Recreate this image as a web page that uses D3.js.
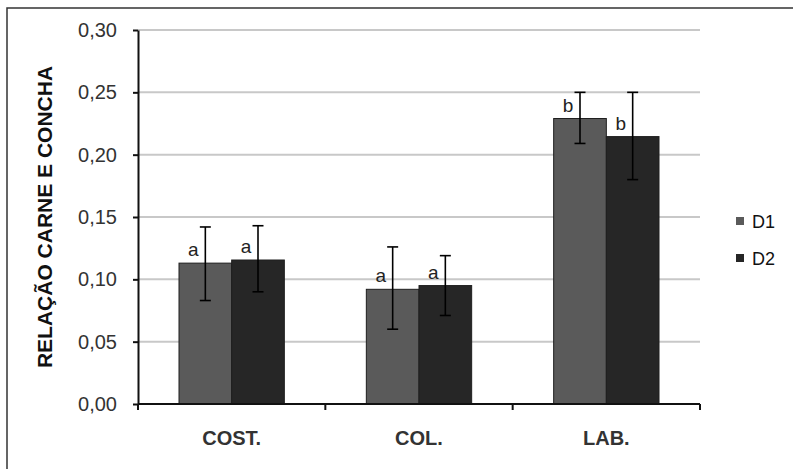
<!DOCTYPE html>
<html lang="pt">
<head>
<meta charset="utf-8">
<title>Relação carne e concha</title>
<script src="https://cdn.jsdelivr.net/npm/d3@7"></script>
<style>
  body { margin: 0; background: #fff; }
  svg { display: block; font-family: "Liberation Sans", Arial, sans-serif; }
  .grid line { stroke: #c8c8c8; stroke-width: 2; }
  .axis path, .axis line { stroke: #111; stroke-width: 2; }
  .axis text { fill: #333; font-size: 20px; }
</style>
</head>
<body>
<svg id="chart" width="793" height="469"></svg>
<script>
// data
var categories = ["COST.", "COL.", "LAB."];
var series = ["D1", "D2"];
var meanD1 = [0.113, 0.092, 0.229];
var meanD2 = [0.1155, 0.095, 0.2145];
var lowD1  = [0.083, 0.060, 0.209];
var highD1 = [0.142, 0.126, 0.250];
var lowD2  = [0.090, 0.071, 0.180];
var highD2 = [0.143, 0.119, 0.250];
var lettersD1 = ["a", "a", "b"];
var lettersD2 = ["a", "a", "b"];
var yTicks = [0, 0.05, 0.10, 0.15, 0.20, 0.25, 0.30];
var colors = {D1: "#5a5a5a", D2: "#262626"};

var rows = [];
categories.forEach(function(c, i) {
  rows.push({cat: c, s: "D1", v: meanD1[i], lo: lowD1[i], hi: highD1[i], lab: lettersD1[i]});
  rows.push({cat: c, s: "D2", v: meanD2[i], lo: lowD2[i], hi: highD2[i], lab: lettersD2[i]});
});

var svg = d3.select("#chart");
var mLeft = 138, mRight = 700, mTop = 30, mBottom = 404;

// outer frame (only top and left edges visible)
svg.append("path")
    .attr("d", "M7,469V8H793")
    .attr("fill", "none")
    .attr("stroke", "#333")
    .attr("stroke-width", 1.5);

var x0 = d3.scaleBand().domain(categories).range([mLeft, mRight]).padding(0);
var gap = 41;
var x1 = d3.scaleBand().domain(series).range([gap, x0.bandwidth() - gap]).padding(0);
var y = d3.scaleLinear().domain([0, 0.30]).range([mBottom, mTop]);

var fmt = function(d) { return d3.format(".2f")(d).replace(".", ","); };

// gridlines
svg.append("g").attr("class", "grid")
  .selectAll("line").data(yTicks.slice(1)).enter().append("line")
    .attr("x1", mLeft).attr("x2", mRight)
    .attr("y1", function(d) { return y(d); })
    .attr("y2", function(d) { return y(d); });

// bars
svg.append("g").selectAll("rect").data(rows).enter().append("rect")
    .attr("x", function(d) { return x0(d.cat) + x1(d.s); })
    .attr("y", function(d) { return y(d.v); })
    .attr("width", x1.bandwidth())
    .attr("height", function(d) { return y(0) - y(d.v); })
    .attr("fill", function(d) { return colors[d.s]; })
    .attr("stroke", "#1e1e1e")
    .attr("stroke-width", 1);

// error bars
var eb = svg.append("g").attr("stroke", "#000").attr("stroke-width", 1.6);
rows.forEach(function(d) {
  var cx = x0(d.cat) + x1(d.s) + x1.bandwidth() / 2;
  eb.append("line").attr("x1", cx).attr("x2", cx).attr("y1", y(d.lo)).attr("y2", y(d.hi));
  eb.append("line").attr("x1", cx - 5.5).attr("x2", cx + 5.5).attr("y1", y(d.lo)).attr("y2", y(d.lo));
  eb.append("line").attr("x1", cx - 5.5).attr("x2", cx + 5.5).attr("y1", y(d.hi)).attr("y2", y(d.hi));
});

// significance letters
svg.append("g").selectAll("text").data(rows).enter().append("text")
    .attr("x", function(d) { return x0(d.cat) + x1(d.s) + x1.bandwidth() / 2 - 12; })
    .attr("y", function(d) { return y(d.v) - 7; })
    .attr("text-anchor", "middle")
    .attr("font-size", "19px")
    .attr("fill", "#222")
    .text(function(d) { return d.lab; });

// y axis
svg.append("g").attr("class", "axis")
    .attr("transform", "translate(" + mLeft + ",0)")
    .call(d3.axisLeft(y).tickValues(yTicks).tickFormat(fmt).tickSize(5).tickSizeOuter(0).tickPadding(16));

// x axis
var xa = svg.append("g").attr("class", "axis")
    .attr("transform", "translate(0," + mBottom + ")");
xa.append("line").attr("x1", mLeft).attr("x2", mRight);
xa.selectAll(".tk").data(categories.concat([null])).enter().append("line")
    .attr("x1", function(d, i) { return mLeft + i * x0.step(); })
    .attr("x2", function(d, i) { return mLeft + i * x0.step(); })
    .attr("y1", 0).attr("y2", 6);
xa.selectAll(".lbl").data(categories).enter().append("text")
    .attr("x", function(d) { return x0(d) + x0.bandwidth() / 2; })
    .attr("y", 41)
    .attr("text-anchor", "middle")
    .attr("font-weight", "bold")
    .attr("font-size", "21px")
    .attr("fill", "#111")
    .text(function(d) { return d; });

// y title
svg.append("text")
    .attr("transform", "translate(52," + (mTop + mBottom) / 2 + ") rotate(-90)")
    .attr("text-anchor", "middle")
    .attr("font-size", "21px")
    .attr("font-weight", "bold")
    .attr("fill", "#111")
    .text("RELAÇÃO CARNE E CONCHA");

// legend
var lg = svg.append("g").selectAll("g").data(series).enter().append("g")
    .attr("transform", function(d, i) { return "translate(736," + (217 + i * 37) + ")"; });
lg.append("rect").attr("width", 8).attr("height", 8)
    .attr("fill", function(d) { return colors[d]; });
lg.append("text").attr("x", 16).attr("y", 11)
    .attr("font-size", "18px").attr("fill", "#111")
    .text(function(d) { return d; });
</script>
</body>
</html>
